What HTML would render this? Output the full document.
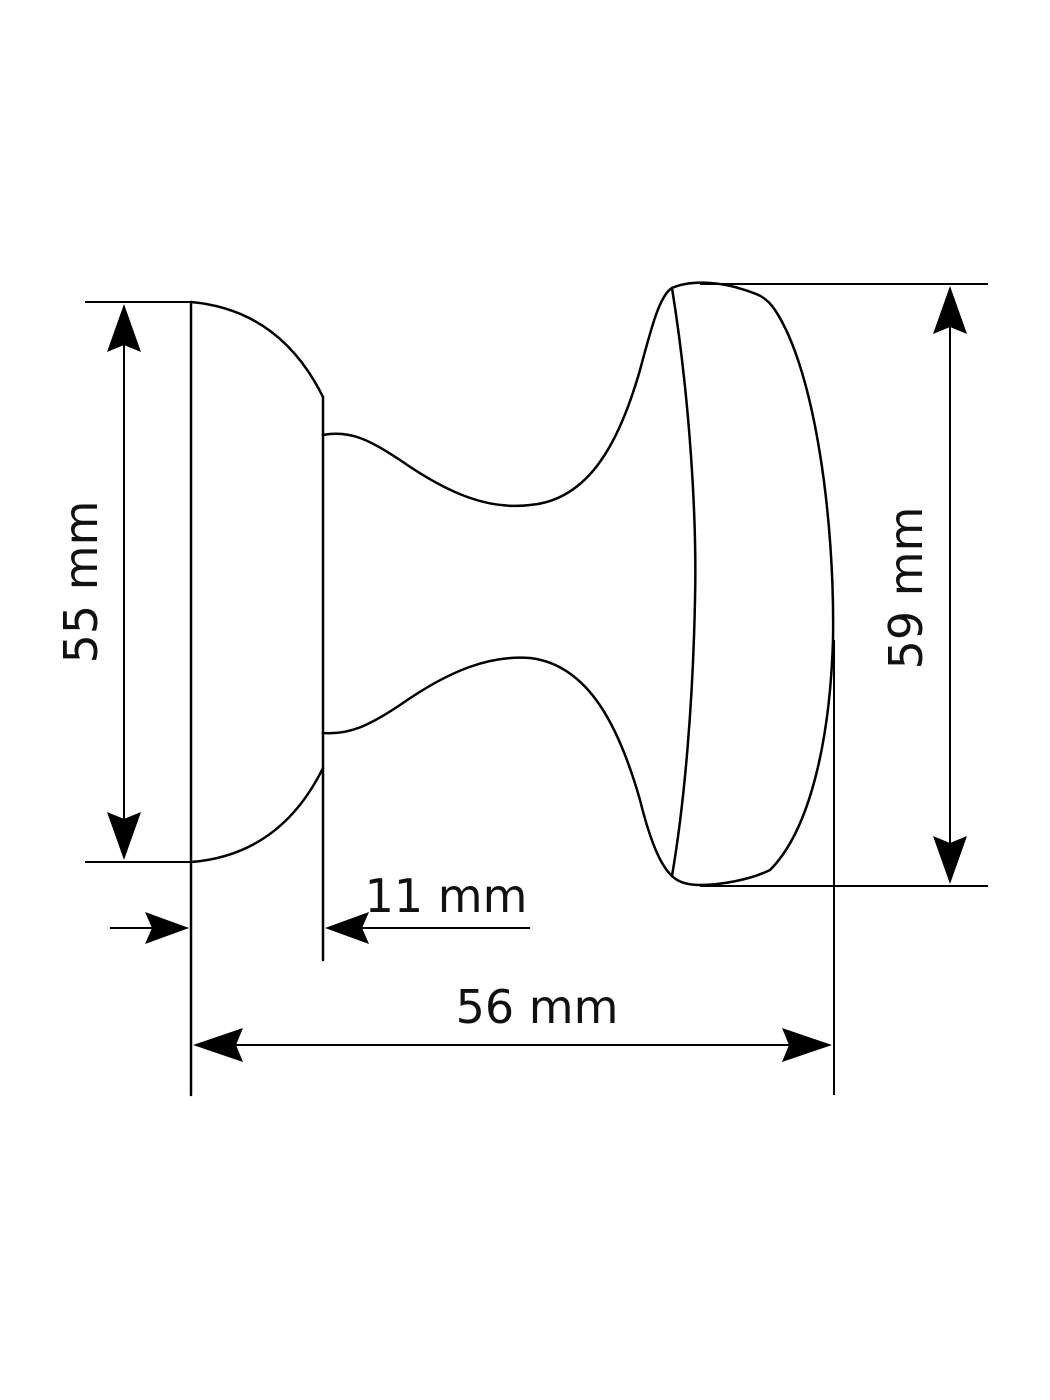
<!DOCTYPE html>
<html><head><meta charset="utf-8"><style>
html,body{margin:0;padding:0;background:#fff;}
svg{display:block;}
text{font-family:"DejaVu Sans","Liberation Sans",sans-serif;font-size:46px;fill:#111;}
</style></head><body>
<svg width="1050" height="1400" viewBox="0 0 1050 1400" xmlns="http://www.w3.org/2000/svg">
<g fill="none" stroke="#000" stroke-width="2.5" stroke-linecap="round" stroke-linejoin="round">
<!-- rosette -->
<line x1="191" y1="302" x2="191" y2="1095"/>
<path d="M191,302 Q280,310 323,397"/>
<line x1="323" y1="397" x2="323" y2="960"/>
<path d="M191,862 Q280,855 323,768"/>
<!-- neck -->
<path d="M323,435 C350,430 370,440 400,460 C450,495 490,510 530,505 C590,500 620,440 640,370 C652,325 660,295 672,288"/>
<path d="M323,733 C350,735 370,725 400,705 C450,670 490,655 530,658 C590,665 620,730 640,800 C650,840 660,865 672,876"/>
<!-- head -->
<path d="M672,288 C690,280 715,282 735,287 C755,293 765,295 775,310 C815,370 835,520 833,640 C830,740 810,830 770,870 C750,880 720,885 700,885 C688,885 678,882 672,876"/>
<path d="M672,288 C690,400 697,520 695,600 C693,700 685,800 672,876"/>
</g>
<g stroke="#000" stroke-width="2" fill="none">
<line x1="85" y1="302" x2="191" y2="302"/>
<line x1="85" y1="862" x2="191" y2="862"/>
<line x1="124" y1="320" x2="124" y2="845"/>
<line x1="700" y1="284" x2="988" y2="284"/>
<line x1="700" y1="886" x2="988" y2="886"/>
<line x1="950" y1="300" x2="950" y2="870"/>
<line x1="834" y1="640" x2="834" y2="1095"/>
<line x1="110" y1="928" x2="175" y2="928"/>
<line x1="340" y1="928" x2="530" y2="928"/>
<line x1="210" y1="1045" x2="815" y2="1045"/>
</g>
<g fill="#000">
<polygon points="124,304 107,352 124,345 141,352"/>
<polygon points="124,860 107,812 124,819 141,812"/>
<polygon points="950,286 933,334 950,327 967,334"/>
<polygon points="950,884 933,836 950,843 967,836"/>
<polygon points="189,928 145,912 152,928 145,944"/>
<polygon points="325,928 369,912 362,928 369,944"/>
<polygon points="193,1045 243,1028 236,1045 243,1062"/>
<polygon points="832,1045 782,1028 789,1045 782,1062"/>
</g>
<text x="0" y="0" text-anchor="middle" transform="translate(97,582) rotate(-90)">55 mm</text>
<text x="0" y="0" text-anchor="middle" transform="translate(922,588) rotate(-90)">59 mm</text>
<text x="446" y="912" text-anchor="middle">11 mm</text>
<text x="537" y="1023" text-anchor="middle">56 mm</text>
</svg>
</body></html>
